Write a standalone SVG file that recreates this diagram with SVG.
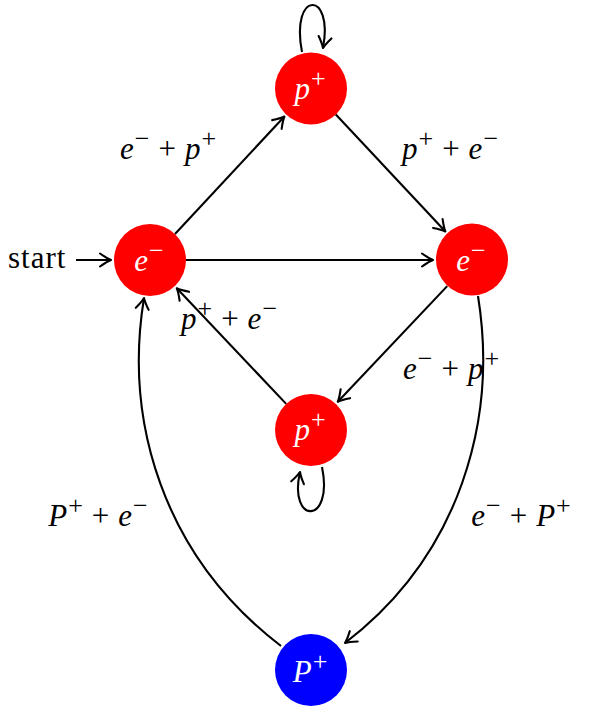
<svg xmlns="http://www.w3.org/2000/svg" width="609" height="714" viewBox="0 0 609 714" font-family="Liberation Serif, serif">
<style>
text{font-size:31px;fill:#000}
.i{font-style:italic}
.sup{font-style:normal}
.nl{fill:#fff;text-anchor:middle}
.el{text-anchor:middle}
.edge{fill:none;stroke:#000;stroke-width:2.1;marker-end:url(#arr)}
</style>
<defs>
<marker id="arr" markerUnits="userSpaceOnUse" viewBox="-13 -8 15 16" refX="0" refY="0" markerWidth="15" markerHeight="16" orient="auto" overflow="visible">
<path d="M-11,-6.5 Q-4,-1.5 0,0 Q-4,1.5 -11,6.5" fill="none" stroke="#000" stroke-width="2.1" stroke-linecap="round" stroke-linejoin="round"/>
</marker>
</defs>
<rect width="609" height="714" fill="#fff"/>
<g id="connectors">
<path class="edge" d="M76,260 L111,260"/>
<path class="edge" d="M175,234 L284.4,116.5"/>
<path class="edge" d="M335.6,114.3 L445.4,231.5"/>
<path class="edge" d="M186,260 L433,260"/>
<path class="edge" d="M447.2,286.1 L337.8,401.7"/>
<path class="edge" d="M286.2,403.9 L176.8,288.3"/>
<path class="edge" d="M478,296 C498,420 460,555 345,643"/>
<path class="edge" d="M281,646 C162,555 124,420 144,298"/>
<path class="edge" d="M302,52 C290,-10 334,-10 323,48"/>
<path class="edge" d="M322,467 C334,525 288,525 300,472"/>
</g>
<g id="edge-labels">
<text x="8" y="268" letter-spacing="1" font-size="30">start</text>
<text class="el" x="168" y="159"><tspan class="i">e</tspan><tspan class="sup" font-size="26" dx="1" dy="-12">−</tspan><tspan dx="9" dy="12">+</tspan><tspan class="i" dx="9">p</tspan><tspan class="sup" font-size="26" dx="1" dy="-12">+</tspan></text>
<text class="el" x="450" y="159"><tspan class="i">p</tspan><tspan class="sup" font-size="26" dx="1" dy="-12">+</tspan><tspan dx="9" dy="12">+</tspan><tspan class="i" dx="9">e</tspan><tspan class="sup" font-size="26" dx="1" dy="-12">−</tspan></text>
<text class="el" x="229" y="329"><tspan class="i">p</tspan><tspan class="sup" font-size="26" dx="1" dy="-12">+</tspan><tspan dx="9" dy="12">+</tspan><tspan class="i" dx="9">e</tspan><tspan class="sup" font-size="26" dx="1" dy="-12">−</tspan></text>
<text class="el" x="451" y="379"><tspan class="i">e</tspan><tspan class="sup" font-size="26" dx="1" dy="-12">−</tspan><tspan dx="9" dy="12">+</tspan><tspan class="i" dx="9">p</tspan><tspan class="sup" font-size="26" dx="1" dy="-12">+</tspan></text>
<text class="el" x="98" y="526"><tspan class="i">P</tspan><tspan class="sup" font-size="26" dx="1" dy="-12">+</tspan><tspan dx="9" dy="12">+</tspan><tspan class="i" dx="9">e</tspan><tspan class="sup" font-size="26" dx="1" dy="-12">−</tspan></text>
<text class="el" x="521" y="526"><tspan class="i">e</tspan><tspan class="sup" font-size="26" dx="1" dy="-12">−</tspan><tspan dx="9" dy="12">+</tspan><tspan class="i" dx="9">P</tspan><tspan class="sup" font-size="26" dx="1" dy="-12">+</tspan></text>
</g>
<g id="node-top">
<circle cx="311" cy="88.5" r="36" fill="#ff0000"/>
<text class="nl" x="310" y="98.5"><tspan class="i">p</tspan><tspan class="sup" font-size="26" dx="1" dy="-12">+</tspan></text>
</g>
<g id="node-left">
<circle cx="150" cy="260" r="36" fill="#ff0000"/>
<text class="nl" x="149" y="271"><tspan class="i">e</tspan><tspan class="sup" font-size="26" dx="1" dy="-12">−</tspan></text>
</g>
<g id="node-right">
<circle cx="472" cy="259.5" r="36" fill="#ff0000"/>
<text class="nl" x="471" y="270.5"><tspan class="i">e</tspan><tspan class="sup" font-size="26" dx="1" dy="-12">−</tspan></text>
</g>
<g id="node-middle">
<circle cx="311" cy="430" r="36" fill="#ff0000"/>
<text class="nl" x="310" y="440"><tspan class="i">p</tspan><tspan class="sup" font-size="26" dx="1" dy="-12">+</tspan></text>
</g>
<g id="node-bottom">
<circle cx="311" cy="670" r="36" fill="#0000ff"/>
<text class="nl" x="310" y="681.5"><tspan class="i">P</tspan><tspan class="sup" font-size="26" dx="1" dy="-12">+</tspan></text>
</g>
</svg>
